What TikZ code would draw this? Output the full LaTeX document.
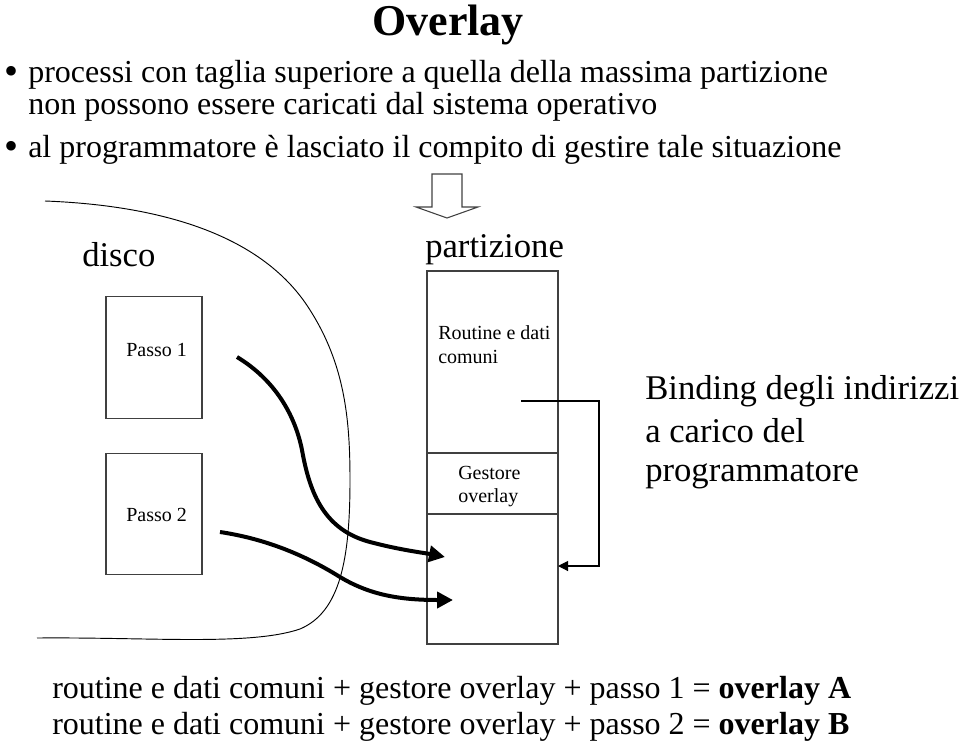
\documentclass[tikz,border=0pt]{standalone}
\usepackage{fontspec}
\setmainfont{Liberation Serif}
\usetikzlibrary{arrows.meta,positioning,calc}
\tikzset{
box/.style={draw=black!75,line width=0.8pt,inner sep=0pt,outer sep=0pt},
passobox/.style={box,minimum width=72pt,minimum height=91pt},
partbox/.style={box,minimum width=98.25pt},
bodytext/.style={font=\fontsize{24}{28}\selectfont,inner sep=0pt,anchor=base west},
bigtext/.style={font=\fontsize{26}{31}\selectfont,inner sep=0pt,anchor=base west},
smalltext/.style={font=\fontsize{15}{18}\selectfont,inner sep=0pt,anchor=base west},
bulletmark/.style={font=\fontsize{30}{30}\selectfont,inner sep=0pt,anchor=base west},
thickarrow/.style={-{Triangle[length=12pt,width=12pt]},line width=3pt},
bindarrow/.style={-{Triangle[length=7.5pt,width=7.5pt]},line width=0.8pt},
}

\begin{document}
\begin{tikzpicture}[x=0.75pt,y=-0.75pt]
\useasboundingbox (0,0) rectangle (960,746);

% Title and bullets
\node[font=\fontsize{33}{40}\selectfont\bfseries,inner sep=0pt,anchor=base] (title) at (448,36) {Overlay};
\node[bulletmark] (bulletA) at (4,84) {\textbullet};
\node[bodytext] (lineA) at (28,82) {processi con taglia superiore a quella della massima partizione};
\node[bodytext] (lineB) at (28,114) {non possono essere caricati dal sistema operativo};
\node[bulletmark] (bulletB) at (4,159) {\textbullet};
\node[bodytext] (lineC) at (28,157) {al programmatore è lasciato il compito di gestire tale situazione};

% Block arrow
\draw[line width=0.8pt,draw=black!75] (432,174) -- (462,174) -- (462,207) -- (478,207)
  -- (447,218) -- (416,207) -- (432,207) -- cycle;

% Disk
\draw[line width=0.7pt] (45,201) .. controls (150,205) and (260,230) .. (310,310)
  .. controls (345,365) and (350,420) .. (350,480)
  .. controls (350,560) and (340,612) .. (300,629)
  .. controls (250,646) and (150,637) .. (37,638);
\node[bigtext] (disklabel) at (82,266) {disco};
\node[passobox] (passo1) at (154,357.5) {};
\node[passobox] (passo2) at (154,514) {};
\node[smalltext] (passo1text) at (126,356) {Passo 1};
\node[smalltext] (passo2text) at (126,521) {Passo 2};

% Partition
\node[bigtext] (partlabel) at (425,257) {partizione};
\node[partbox,minimum height=136.5pt] (routine) at (492.5,362) {};
\node[partbox,minimum height=45.75pt,below=0pt of routine] (gestore) {};
\node[partbox,minimum height=97.5pt,below=0pt of gestore] (freepart) {};
\node[smalltext] (routinetextA) at (438,339) {Routine e dati};
\node[smalltext] (routinetextB) at (438,363) {comuni};
\node[smalltext] (gestoretextA) at (458,479) {Gestore};
\node[smalltext] (gestoretextB) at (458,502) {overlay};

% Loading the passes
\coordinate (start1) at (237,357);
\coordinate (end1) at (445,557);
\coordinate (start2) at (220,532);
\coordinate (end2) at (453,600);
\draw[thickarrow] (start1) .. controls (275,380) and (295,415) .. (302,450)
  .. controls (310,495) and (325,530) .. (370,542)
  .. controls (400,550) and (425,553) .. (end1);
\draw[thickarrow] (start2) .. controls (260,538) and (300,552) .. (340,577)
  .. controls (370,595) and (400,600) .. (end2);

% Binding
\coordinate (bindstart) at (521,401);
\coordinate (bindend) at (558,566);
\draw[bindarrow] (bindstart) -- ++(78,0) |- (bindend);
\node[bigtext] (bindA) at (645,399) {Binding degli indirizzi};
\node[bigtext] (bindB) at (645,442) {a carico del};
\node[bigtext] (bindC) at (645,481) {programmatore};

% Result
\node[bodytext] (resultA) at (52,698) {routine e dati comuni + gestore overlay + passo 1 = \textbf{overlay A}};
\node[bodytext] (resultB) at (52,734) {routine e dati comuni + gestore overlay + passo 2 = \textbf{overlay B}};

\end{tikzpicture}
\end{document}
